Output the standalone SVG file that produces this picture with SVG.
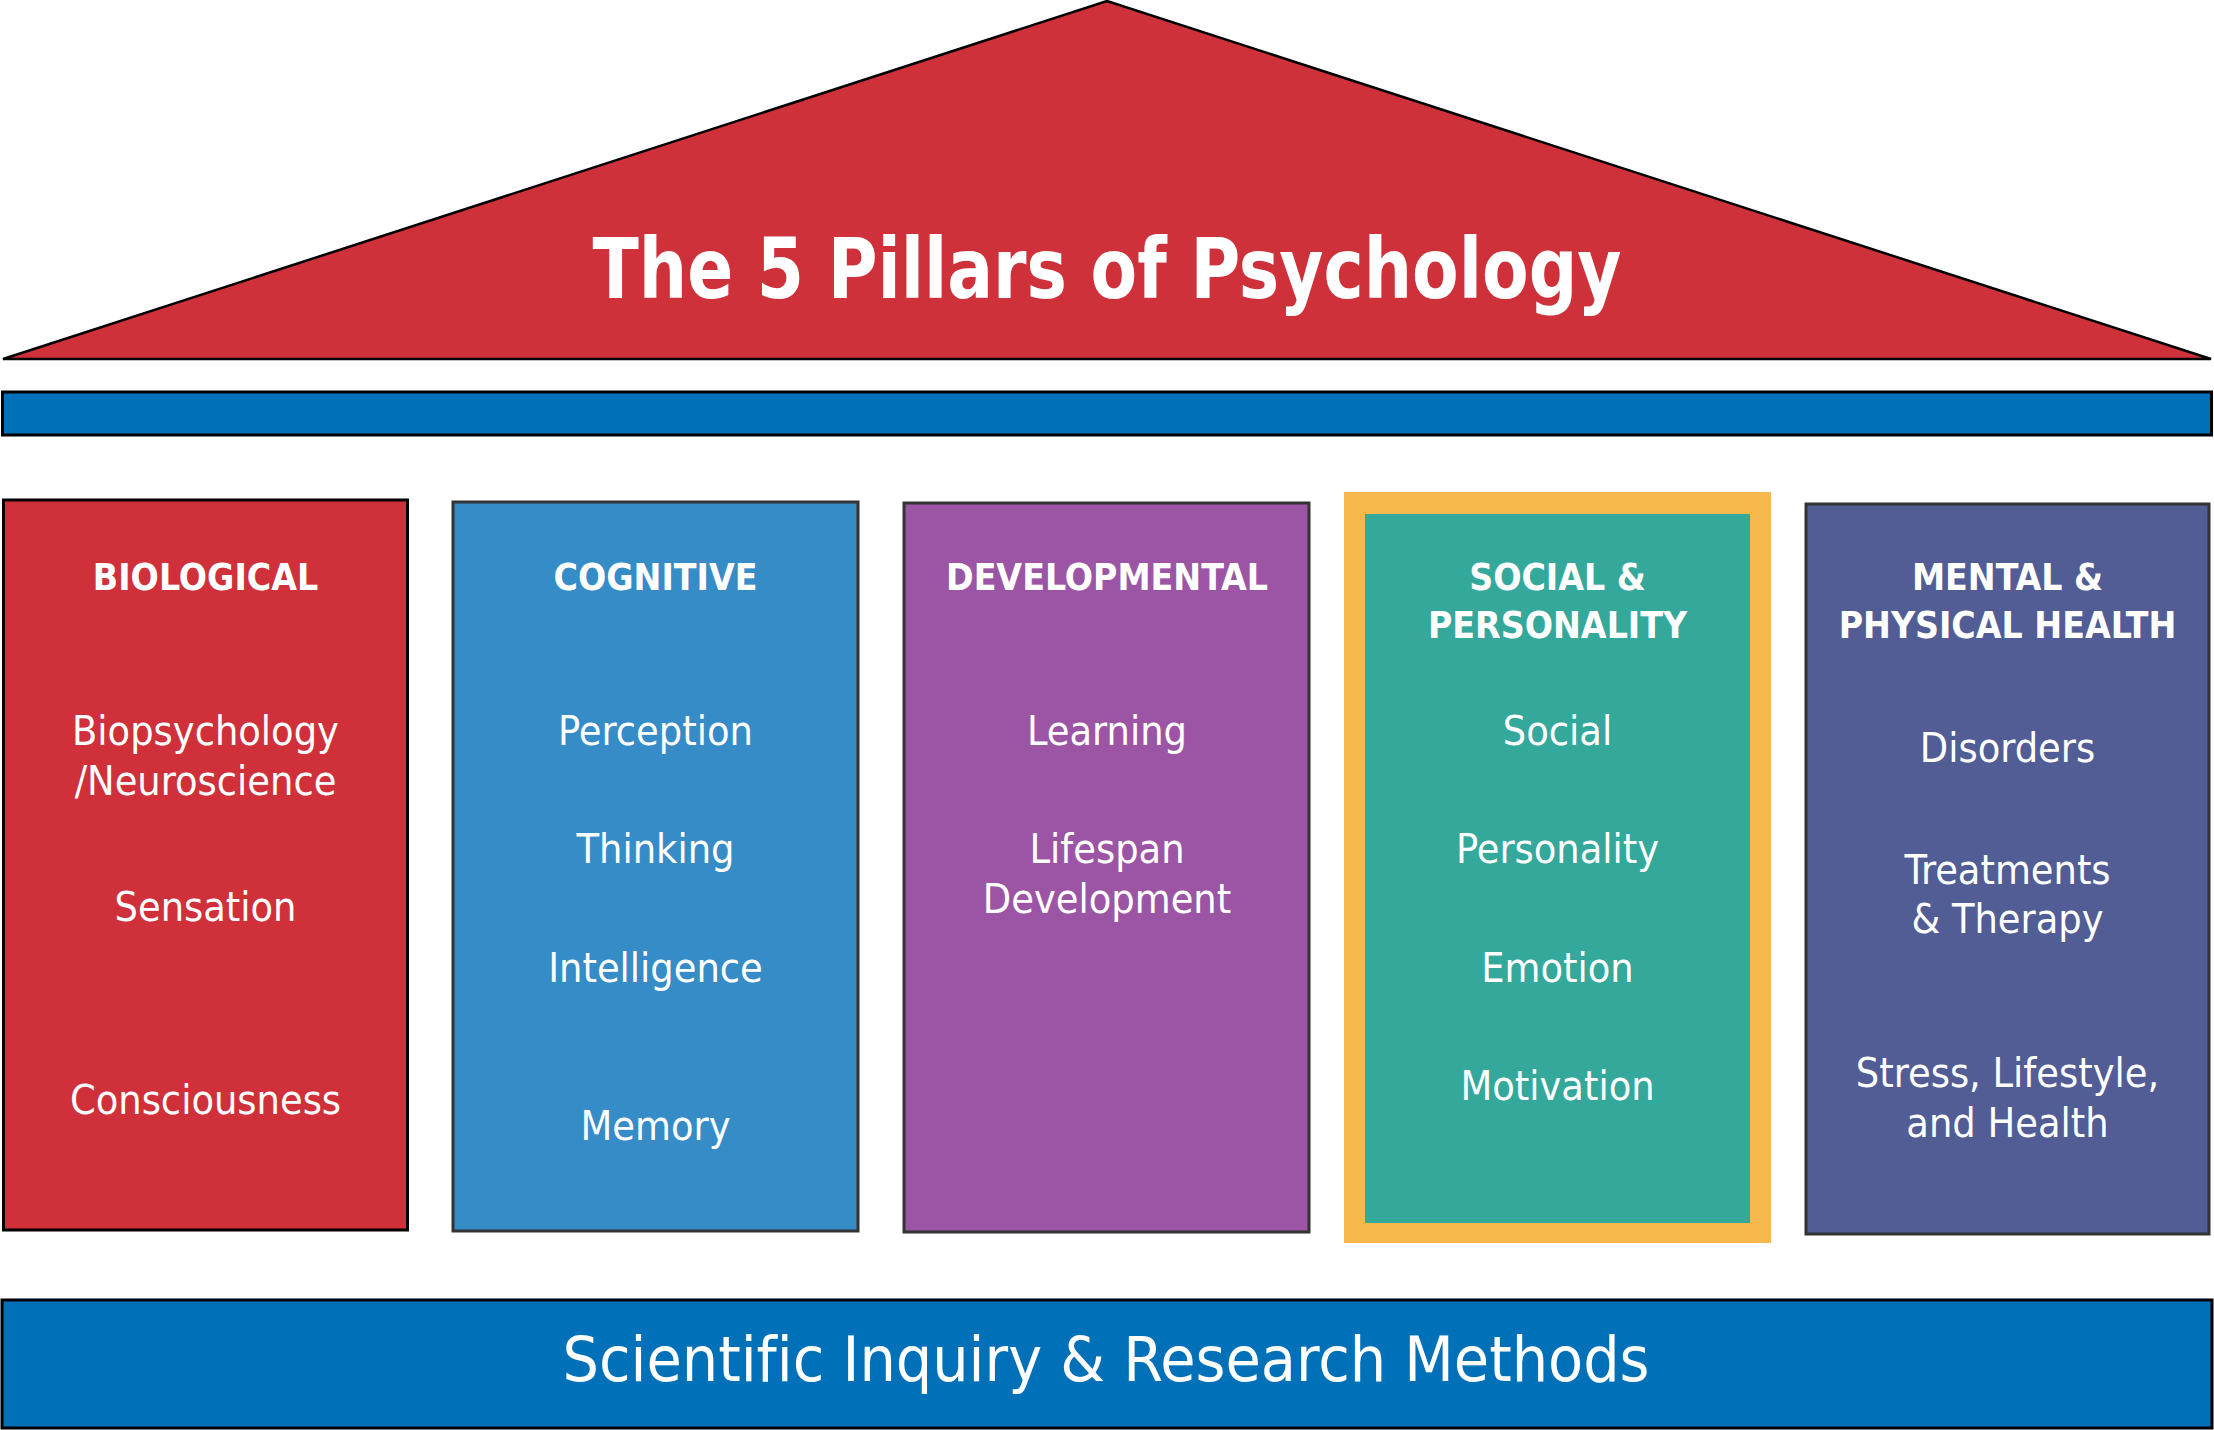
<svg xmlns="http://www.w3.org/2000/svg" width="2214" height="1430" viewBox="0 0 2214 1430">
  <style>
    text { font-family: "DejaVu Sans Condensed", "DejaVu Sans", "Liberation Sans", sans-serif; fill: #ffffff; text-anchor: middle; font-variant-ligatures: none; }
    .head { font-size: 37px; font-weight: bold; }
    .item { font-size: 41px; }
    .title { font-size: 84px; font-weight: bold; }
    .base { font-size: 62px; }
    .box { stroke: #333333; stroke-width: 3; }
  </style>
  <rect width="2214" height="1430" fill="#ffffff"/>

  <g id="roof">
    <polygon points="3,359 1107,1 2211,359" fill="#cf313b" stroke="#000000" stroke-width="2.5" stroke-linejoin="miter"/>
    <text class="title" x="1107" y="298" textLength="1029" lengthAdjust="spacingAndGlyphs">The 5 Pillars of Psychology</text>
  </g>

  <g id="beam">
    <rect x="2.5" y="392" width="2209" height="43" fill="#0070b8" stroke="#000000" stroke-width="3"/>
  </g>

  <g id="pillar-biological">
    <rect x="3.5" y="500" width="404" height="730" fill="#cf303a" stroke="#000000" stroke-width="3"/>
    <text class="head" x="205.5" y="590">BIOLOGICAL</text>
    <text class="item" x="205.5" y="745">Biopsychology</text>
    <text class="item" x="205.5" y="795">/Neuroscience</text>
    <text class="item" x="205.5" y="921">Sensation</text>
    <text class="item" x="205.5" y="1114">Consciousness</text>
  </g>

  <g id="pillar-cognitive">
    <rect class="box" x="453" y="502" width="405" height="729" fill="#368cc6"/>
    <text class="head" x="655.5" y="590">COGNITIVE</text>
    <text class="item" x="655.5" y="745">Perception</text>
    <text class="item" x="655.5" y="863">Thinking</text>
    <text class="item" x="655.5" y="982">Intelligence</text>
    <text class="item" x="655.5" y="1140">Memory</text>
  </g>

  <g id="pillar-developmental">
    <rect class="box" x="904" y="503" width="405" height="729" fill="#9c55a5"/>
    <text class="head" x="1107" y="590">DEVELOPMENTAL</text>
    <text class="item" x="1107" y="745">Learning</text>
    <text class="item" x="1107" y="863">Lifespan</text>
    <text class="item" x="1107" y="913">Development</text>
  </g>

  <g id="pillar-social">
    <rect x="1344" y="492" width="427" height="751" fill="#f6b74c"/>
    <rect x="1365" y="514" width="385" height="709" fill="#34a89b"/>
    <text class="head" x="1557.5" y="590">SOCIAL &amp;</text>
    <text class="head" x="1557.5" y="638">PERSONALITY</text>
    <text class="item" x="1557.5" y="745">Social</text>
    <text class="item" x="1557.5" y="863">Personality</text>
    <text class="item" x="1557.5" y="982">Emotion</text>
    <text class="item" x="1557.5" y="1100">Motivation</text>
  </g>

  <g id="pillar-health">
    <rect class="box" x="1806" y="504" width="403" height="730" fill="#515d94"/>
    <text class="head" x="2007.5" y="590">MENTAL &amp;</text>
    <text class="head" x="2007.5" y="638">PHYSICAL HEALTH</text>
    <text class="item" x="2007.5" y="762">Disorders</text>
    <text class="item" x="2007.5" y="884">Treatments</text>
    <text class="item" x="2007.5" y="933">&amp; Therapy</text>
    <text class="item" x="2007.5" y="1087">Stress, Lifestyle,</text>
    <text class="item" x="2007.5" y="1137">and Health</text>
  </g>

  <g id="foundation">
    <rect x="2" y="1300" width="2210" height="128" fill="#0070b8" stroke="#000000" stroke-width="3"/>
    <text class="base" x="1106" y="1381" textLength="1087" lengthAdjust="spacingAndGlyphs">Scientific Inquiry &amp; Research Methods</text>
  </g>

  <g id="connectors"/>
</svg>
